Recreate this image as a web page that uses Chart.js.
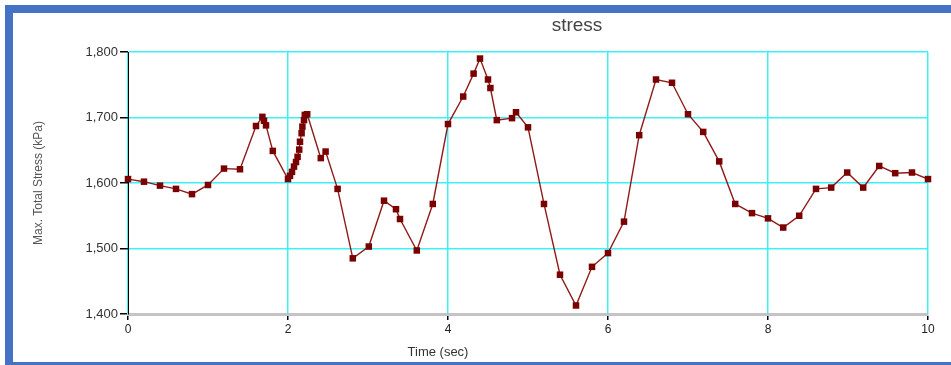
<!DOCTYPE html>
<html lang="en">
<head>
  <meta charset="UTF-8" />
  <title>stress</title>
  <script src="https://cdn.jsdelivr.net/npm/chart.js"></script>
  <style>
    body {
      margin: 0;
      background: #fff;
      font-family: 'Liberation Sans', Arial, sans-serif;
    }
    #wrap {
      position: relative;
      width: 951px;
      height: 365px;
      overflow: hidden;
    }
    #frame {
      position: absolute;
      left: 5px;
      top: 5px;
      width: 980px;
      height: 365px;
      border: 8px solid #4472c4;
      box-sizing: border-box;
    }
    #stressChart {
      position: absolute;
      left: 0;
      top: 0;
    }
    .label {
      position: absolute;
      text-align: center;
      white-space: nowrap;
    }
    #title {
      left: 527px;
      top: 14px;
      width: 100px;
      font-size: 19px;
      line-height: 22px;
      color: #444;
    }
    #xTitle {
      left: 388px;
      top: 344px;
      width: 100px;
      font-size: 13px;
      line-height: 16px;
      color: #333;
    }
  </style>
</head>
<body>
  <div id="wrap">
    <div id="frame"></div>
    <canvas id="stressChart" width="951" height="365"></canvas>
    <div class="label" id="title">stress</div>
    <div class="label" id="xTitle">Time (sec)</div>
  </div>

  <script>
    // time (sec) and max total stress (kPa)
    const times = [0, 0.2, 0.4, 0.6, 0.8, 1.0, 1.2, 1.4,
      1.6, 1.68, 1.7, 1.725, 1.81,
      2.0, 2.025, 2.05, 2.075, 2.1, 2.12, 2.14, 2.15, 2.17, 2.18, 2.2, 2.21, 2.24,
      2.41, 2.47, 2.62, 2.81, 3.01, 3.2, 3.35, 3.4, 3.61, 3.81,
      4.0, 4.19, 4.32, 4.4, 4.5, 4.53, 4.61, 4.8, 4.85,
      5.0, 5.2, 5.4, 5.6, 5.8,
      6.0, 6.2, 6.39, 6.6, 6.8,
      7.0, 7.19, 7.39, 7.59, 7.8,
      8.0, 8.19, 8.39, 8.6, 8.79, 8.99,
      9.19, 9.39, 9.59, 9.8, 10.0];
    const stress = [1606, 1602, 1596, 1591, 1583, 1597, 1622, 1621,
      1687, 1701, 1695, 1688, 1649,
      1606, 1611, 1617, 1625, 1632, 1640, 1651, 1663, 1676, 1686, 1696, 1704, 1705,
      1638, 1648, 1591, 1485, 1503, 1573, 1560, 1545, 1497, 1568,
      1690, 1732, 1767, 1790, 1758, 1745, 1696, 1699, 1708,
      1685, 1568, 1460, 1413, 1472,
      1493, 1541, 1673, 1758, 1753,
      1705, 1678, 1633, 1568, 1554,
      1546, 1532, 1550, 1591, 1593, 1616,
      1593, 1626, 1615, 1616, 1606];
    const xTicks = [0, 2, 4, 6, 8, 10];
    const yTicks = [1400, 1500, 1600, 1700, 1800];

    const points = times.map((t, i) => ({ x: t, y: stress[i] }));
    const gridCyan = '#3ff0f4';

    const ctx = document.getElementById('stressChart').getContext('2d');
    new Chart(ctx, {
      type: 'line',
      data: {
        datasets: [{
          label: 'stress',
          data: points,
          borderColor: '#8f1a1a',
          borderWidth: 1.4,
          backgroundColor: '#7a0000',
          pointBackgroundColor: '#7a0000',
          pointBorderColor: '#7a0000',
          pointBorderWidth: 0,
          pointStyle: 'rect',
          pointRadius: 4.6,
          tension: 0,
          clip: false
        }]
      },
      options: {
        responsive: false,
        animation: false,
        devicePixelRatio: 1,
        layout: { padding: { left: 0, right: 23, top: 52, bottom: 0 } },
        plugins: {
          legend: { display: false },
          tooltip: { enabled: false }
        },
        scales: {
          x: {
            type: 'linear',
            min: xTicks[0],
            max: xTicks[xTicks.length - 1],
            afterBuildTicks: s => { s.ticks = xTicks.map(v => ({ value: v })); },
            afterFit: s => { s.height = 51; },
            grid: {
              color: gridCyan,
              lineWidth: 1.5,
              tickColor: '#000',
              tickLength: 6
            },
            border: { color: '#c4c4c4', width: 3 },
            ticks: {
              color: '#222',
              padding: 2,
              maxRotation: 0,
              font: { family: "'Liberation Sans', Arial, sans-serif", size: 12 }
            }
          },
          y: {
            min: yTicks[0],
            max: yTicks[yTicks.length - 1],
            afterBuildTicks: s => { s.ticks = yTicks.map(v => ({ value: v })); },
            afterFit: s => { s.width = 128; },
            grid: {
              color: gridCyan,
              lineWidth: 1.5,
              tickColor: '#000',
              tickLength: 8
            },
            border: { color: '#000', width: 1 },
            ticks: {
              color: '#333',
              padding: 2,
              font: { family: "'Liberation Sans', Arial, sans-serif", size: 13 },
              callback: v => v.toLocaleString('en-US')
            },
            title: {
              display: true,
              text: 'Max. Total Stress (kPa)',
              color: '#555',
              padding: { top: 31, bottom: 0 },
              font: { family: "'Liberation Sans', Arial, sans-serif", size: 12 }
            }
          }
        }
      }
    });
  </script>
</body>
</html>
